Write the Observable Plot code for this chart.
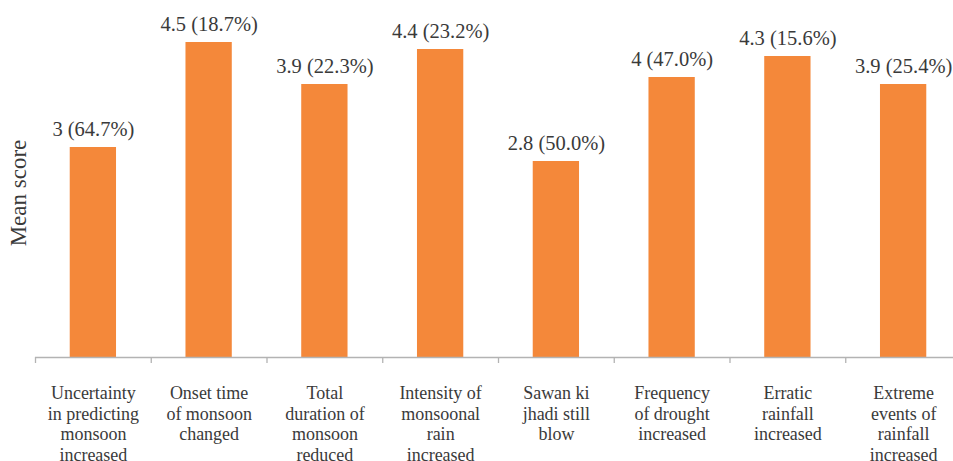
<!DOCTYPE html>
<html>
<head>
<meta charset="utf-8">
<script src="https://cdn.jsdelivr.net/npm/d3@7"></script>
<script src="https://cdn.jsdelivr.net/npm/@observablehq/plot@0.6"></script>
<style>
  html, body { margin: 0; padding: 0; background: #fff; }
  #chart svg { display: block; }
  #chart svg, #chart svg text { font-family: "Liberation Serif", "DejaVu Serif", serif !important; }
</style>
</head>
<body>
<div id="chart"></div>
<script>
// Perception statements (axis labels, line breaks as printed)
const categories = [
  "Uncertainty\nin predicting\nmonsoon\nincreased",
  "Onset time\nof monsoon\nchanged",
  "Total\nduration of\nmonsoon\nreduced",
  "Intensity of\nmonsoonal\nrain\nincreased",
  "Sawan ki\njhadi still\nblow",
  "Frequency\nof drought\nincreased",
  "Erratic\nrainfall\nincreased",
  "Extreme\nevents of\nrainfall\nincreased"
];
// Mean score per statement
const meanScores = [3, 4.5, 3.9, 4.4, 2.8, 4, 4.3, 3.9];
// Share of respondents shown in brackets
const percents = ["64.7%", "18.7%", "22.3%", "23.2%", "50.0%", "47.0%", "15.6%", "25.4%"];

const rows = categories.map((c, i) => ({
  category: c,
  score: meanScores[i],
  label: `${meanScores[i]} (${percents[i]})`
}));

const textColor = "#3a3a3a";
const barColor = "#f4883a";
const axisColor = "#b3b3b3";

const left = 35;
const right = 961;
const step = (right - left) / categories.length;

const chart = Plot.plot({
  width: 953,
  height: 461,
  marginLeft: left,
  marginRight: 0,
  marginTop: 42,
  marginBottom: 104,
  style: { background: "#fff", overflow: "visible" },
  x: { domain: categories, range: [left, right], paddingInner: 0.6, paddingOuter: 0.3, round: false, axis: null },
  y: { domain: [0, 4.5], axis: null },
  marks: [
    Plot.barY(rows, { x: "category", y: "score", fill: barColor }),
    // category baseline with boundary ticks
    Plot.ruleY([0], { stroke: axisColor, strokeWidth: 1.3 }),
    Plot.ruleX(categories, { x: d => d, y1: () => 0, y2: () => 0, insetBottom: -6, dx: -step / 2, stroke: axisColor, strokeWidth: 1.3 }),
    // value labels above bars
    Plot.text(rows, {
      x: "category", y: "score", text: "label",
      lineAnchor: "bottom", dy: -12,
      fontSize: 20.5, fill: textColor
    }),
    // category labels under the axis
    Plot.text(rows, {
      x: "category", y: () => 0, text: "category",
      lineAnchor: "top", dy: 27, lineHeight: 1.14,
      fontSize: 18, fill: textColor
    }),
    // y-axis title
    Plot.text(["Mean score"], {
      frameAnchor: "left", rotate: -90, text: d => d,
      textAnchor: "middle", lineAnchor: "bottom", dx: -10, dy: -7,
      fontSize: 23, fill: textColor
    })
  ]
});

document.getElementById("chart").append(chart);
</script>
</body>
</html>
